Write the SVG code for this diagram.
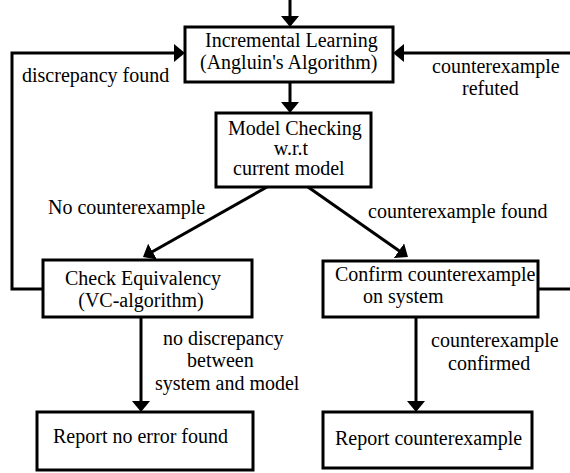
<svg xmlns="http://www.w3.org/2000/svg" width="570" height="473" viewBox="0 0 570 473">
  <style>
    .box { fill: #ffffff; stroke: #000000; stroke-width: 3; }
    .edge { fill: none; stroke: #000000; stroke-width: 3; }
    text { font-family: "Liberation Serif", "Times New Roman", serif; font-size: 20px; fill: #000000; }
    .mid { text-anchor: middle; }
  </style>
  <defs>
    <marker id="arrow" viewBox="0 0 11 18" refX="8" refY="9" markerWidth="11" markerHeight="18" markerUnits="userSpaceOnUse" orient="auto">
      <path d="M0,0 L11,9 L0,18 Z" fill="#000000"/>
    </marker>
  </defs>

  <rect width="570" height="473" fill="#ffffff"/>

  <!-- connectors -->
  <g id="connectors">
    <line class="edge" x1="290" y1="0" x2="290" y2="24" marker-end="url(#arrow)"/>
    <line class="edge" x1="290" y1="82" x2="290" y2="110" marker-end="url(#arrow)"/>
    <line class="edge" x1="267" y1="187" x2="145.6" y2="255.5" marker-end="url(#arrow)"/>
    <line class="edge" x1="308" y1="187" x2="405.5" y2="255.3" marker-end="url(#arrow)"/>
    <polyline class="edge" points="43,289 12,289 12,53 182,53" marker-end="url(#arrow)"/>
    <polyline class="edge" points="538,289 576,289 576,53 396,53" marker-end="url(#arrow)"/>
    <line class="edge" x1="141" y1="317" x2="141" y2="409" marker-end="url(#arrow)"/>
    <line class="edge" x1="416" y1="317" x2="416" y2="409" marker-end="url(#arrow)"/>

    <text x="22" y="82">discrepancy found</text>
    <text x="432" y="73">counterexample</text>
    <text x="462" y="95">refuted</text>
    <text x="48" y="214">No counterexample</text>
    <text x="368" y="218">counterexample found</text>
    <text x="163" y="345">no discrepancy</text>
    <text x="187" y="367">between</text>
    <text x="155" y="390">system and model</text>
    <text x="431" y="347">counterexample</text>
    <text x="448" y="370">confirmed</text>
  </g>

  <!-- nodes -->
  <g id="learning">
    <rect class="box" x="185" y="27" width="208" height="55"/>
    <text x="205" y="47">Incremental Learning</text>
    <text x="200" y="69">(Angluin's Algorithm)</text>
  </g>

  <g id="model-checking">
    <rect class="box" x="216" y="113" width="155" height="74"/>
    <text x="228" y="135">Model Checking</text>
    <text class="mid" x="291" y="155">w.r.t</text>
    <text x="233" y="175">current model</text>
  </g>

  <g id="check-equivalency">
    <rect class="box" x="43" y="260" width="209" height="57"/>
    <text class="mid" x="143" y="285">Check Equivalency</text>
    <text class="mid" x="141" y="307">(VC-algorithm)</text>
  </g>

  <g id="confirm-counterexample">
    <rect class="box" x="323" y="261" width="215" height="56"/>
    <text x="335" y="281">Confirm counterexample</text>
    <text x="363" y="303">on system</text>
  </g>

  <g id="report-no-error">
    <rect class="box" x="37" y="412" width="216" height="58"/>
    <text x="53" y="443">Report no error found</text>
  </g>

  <g id="report-counterexample">
    <rect class="box" x="323" y="412" width="209" height="56"/>
    <text x="335" y="445">Report counterexample</text>
  </g>
</svg>
